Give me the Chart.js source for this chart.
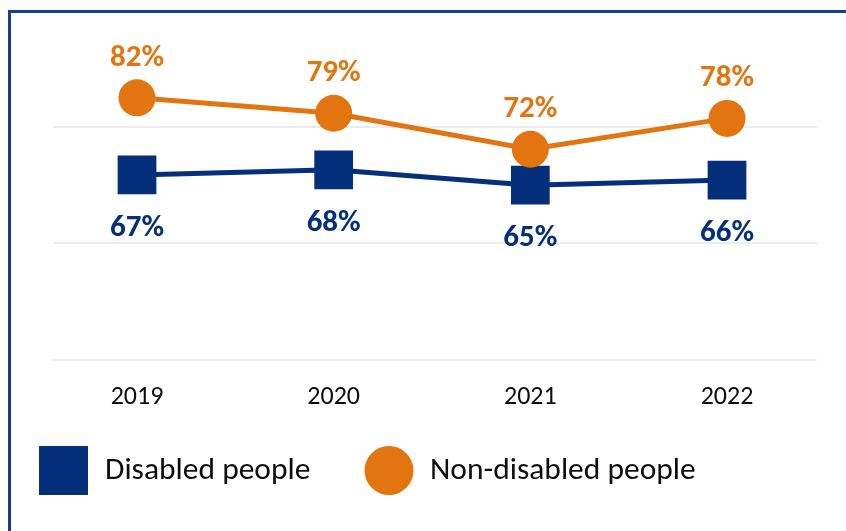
<!DOCTYPE html>
<html><head><meta charset="utf-8">
<script src="https://cdn.jsdelivr.net/npm/chart.js@4.4.1/dist/chart.umd.min.js"></script>
<style>
html,body{margin:0;padding:0;background:#fff;overflow:hidden;}
#wrap{position:relative;width:846px;height:531px;overflow:hidden;}
#frame{position:absolute;left:8px;top:10px;width:900px;height:600px;border-left:3px solid #173F8F;border-top:3px solid #173F8F;pointer-events:none;}
canvas{position:absolute;left:0;top:0;}
</style></head><body>
<div id="wrap"><canvas id="c" width="846" height="531"></canvas><div id="frame"></div></div>
<script>
const categories = ['2019', '2020', '2021', '2022'];
const seriesNames = ['Disabled people', 'Non-disabled people'];
const disabledValues = [67, 68, 65, 66];
const nonDisabledValues = [82, 79, 72, 78];
const gridValues = [31, 53.7, 76.4];

const NAVY = '#052F7A';
const ORANGE = '#E37510';
const FONT = 'Carlito, Lato, sans-serif';

const valueLabels = {
  id: 'valueLabels',
  afterDatasetsDraw(chart) {
    const ctx = chart.ctx;
    chart.data.datasets.forEach((ds, i) => {
      const meta = chart.getDatasetMeta(i);
      ctx.save();
      ctx.font = 'bold 31px ' + FONT;
      ctx.fillStyle = ds.labelColor;
      ctx.textAlign = 'center';
      ctx.textBaseline = 'middle';
      meta.data.forEach((el, j) => {
        ctx.fillText(ds.data[j].y + '%', el.x, el.y + ds.labelOffset);
      });
      ctx.restore();
    });
  }
};

const legendBox = {
  id: 'legendBox',
  afterDraw(chart) {
    const ctx = chart.ctx;
    const ds = chart.data.datasets;
    ctx.save();
    ctx.fillStyle = ds[0].backgroundColor;
    ctx.fillRect(39, 446, 49, 49);
    ctx.beginPath();
    ctx.fillStyle = ds[1].backgroundColor;
    ctx.arc(389, 470.5, 24.5, 0, Math.PI * 2);
    ctx.fill();
    ctx.font = '31.5px ' + FONT;
    ctx.fillStyle = '#0d0d0d';
    ctx.textAlign = 'left';
    ctx.textBaseline = 'middle';
    ctx.fillText(ds[0].label, 105, 471);
    ctx.fillText(ds[1].label, 430, 471);
    ctx.restore();
  }
};

new Chart(document.getElementById('c'), {
  type: 'line',
  data: {
    datasets: [
      {
        label: seriesNames[0],
        data: disabledValues.map((v, i) => ({x: i, y: v})),
        borderColor: NAVY, backgroundColor: NAVY,
        borderWidth: 5, pointStyle: 'rect', pointRadius: 27.4,
        pointBorderWidth: 0, tension: 0, order: 2,
        labelColor: NAVY, labelOffset: 53
      },
      {
        label: seriesNames[1],
        data: nonDisabledValues.map((v, i) => ({x: i, y: v})),
        borderColor: ORANGE, backgroundColor: ORANGE,
        borderWidth: 5, pointStyle: 'circle', pointRadius: 18.5,
        pointBorderWidth: 0, tension: 0, order: 1,
        labelColor: ORANGE, labelOffset: -40
      }
    ]
  },
  options: {
    responsive: false, animation: false, devicePixelRatio: 1, events: [],
    layout: {autoPadding: false, padding: {left: 0, right: 29, top: 12, bottom: 0}},
    plugins: {legend: {display: false}, tooltip: {enabled: false}},
    scales: {
      x: {
        type: 'linear', min: -0.4271, max: 3.4576,
        afterBuildTicks: ax => { ax.ticks = categories.map((c, i) => ({value: i})); },
        afterFit: ax => { ax.height = 171; },
        grid: {display: false}, border: {display: false},
        ticks: {
          callback: v => categories[v],
          font: {family: FONT, size: 26}, color: '#0d0d0d',
          padding: 14, autoSkip: false, maxRotation: 0
        }
      },
      y: {
        min: 31, max: 98.7,
        afterBuildTicks: ax => { ax.ticks = gridValues.map(v => ({value: v})); },
        afterFit: ax => { ax.width = 53; },
        ticks: {display: false}, border: {display: false},
        grid: {color: '#ECECEC', lineWidth: 2, drawTicks: false}
      }
    }
  },
  plugins: [valueLabels, legendBox]
});
</script>
</body></html>
